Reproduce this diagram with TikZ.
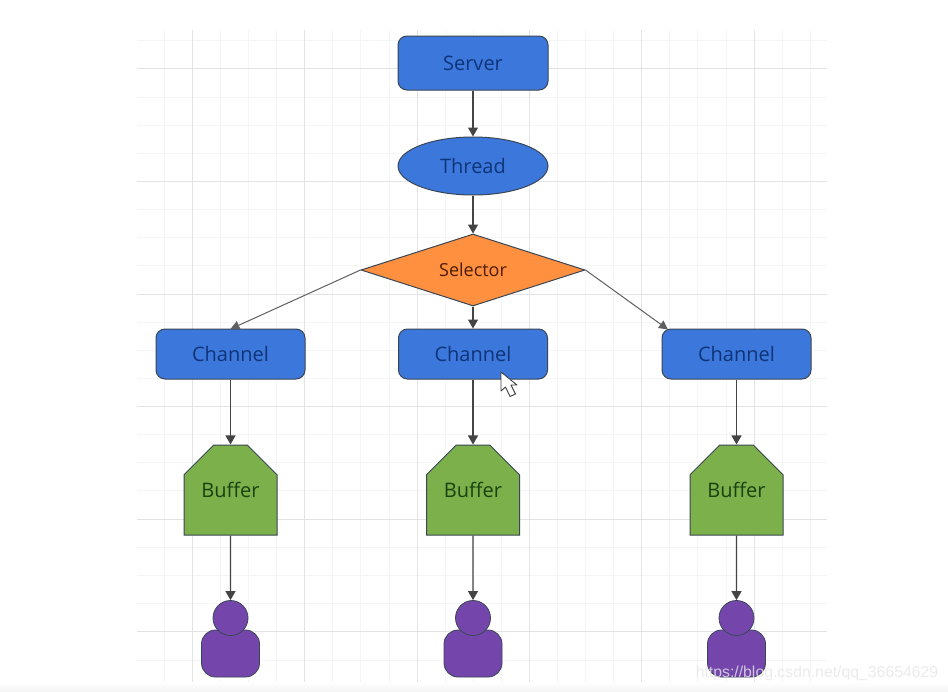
\documentclass[tikz,border=0pt]{standalone}
\usepackage{fontspec}
\setmainfont{Open Sans}
\newfontfamily\wmfont{Liberation Sans}
\usetikzlibrary{shapes.geometric,shapes.misc,arrows.meta}
\definecolor{gmajor}{HTML}{E3E3E5}
\definecolor{gminor}{HTML}{F5F5F6}
\definecolor{wmtext}{HTML}{E6E6E8}
\definecolor{sblue}{HTML}{3C78DC}
\definecolor{tblue}{HTML}{0F3478}
\definecolor{sorange}{HTML}{FF9040}
\definecolor{torange}{HTML}{4E1C00}
\definecolor{sgreen}{HTML}{7CB04A}
\definecolor{tgreen}{HTML}{1A4210}
\definecolor{spurple}{HTML}{7446AC}
\definecolor{edgeln}{HTML}{3A4654}
\definecolor{arrowc}{HTML}{444444}
\tikzset{
  lbl/.style={font=\fontsize{20}{22}\selectfont},
  bluebox/.style={rectangle,rounded corners=9pt,draw=edgeln,line width=1pt,fill=sblue,text=tblue,lbl,inner sep=0pt},
  channelbox/.style={bluebox,minimum width=149pt,minimum height=50pt},
  threadshape/.style={ellipse,draw=edgeln,line width=1pt,fill=sblue,text=tblue,lbl,inner sep=0pt,minimum width=150pt,minimum height=58pt},
  selectorshape/.style={diamond,aspect=3.11,draw=edgeln,line width=1pt,fill=sorange,text=torange,inner sep=0pt,minimum width=224pt,minimum height=72pt,font=\fontsize{18}{20}\selectfont},
  bufferbox/.style={chamfered rectangle,chamfered rectangle corners={north west,north east},chamfered rectangle xsep=23pt,chamfered rectangle ysep=22pt,draw=edgeln,line width=1pt,fill=sgreen,text=tgreen,lbl,inner sep=0pt,minimum width=93pt,minimum height=90pt},
  head/.style={circle,draw=edgeln,line width=.8pt,fill=spurple,inner sep=0pt,minimum size=35pt},
  body/.style={rectangle,rounded corners=14pt,draw=edgeln,line width=.8pt,fill=spurple,inner sep=0pt,minimum width=58pt,minimum height=47pt},
  conn/.style={draw=arrowc,line width=1.1pt,-{Triangle[length=9pt,width=10pt]},shorten >=0pt},
  thinconn/.style={draw=arrowc!85,line width=1pt,-{Triangle[length=9pt,width=9pt]}},
}
\begin{document}
\begin{tikzpicture}[x=1pt,y=-1pt]
\useasboundingbox (0,0) rectangle (948,691);
\fill[white] (0,0) rectangle (948,691);
% grid
\foreach \x in {164,220,248,276,332,360,389,445,473,501,557,585,613,669,697,726,782,810}
  \draw[gminor,line width=1pt] (\x,30) -- (\x,685);
\foreach \y in {40,97,125,153,209,237,265,322,350,378,434,462,490,547,575,603,660}
  \draw[gminor,line width=1pt] (137,\y) -- (827,\y);
\foreach \x in {192,304,417,529,641,754}
  \draw[gmajor,line width=1pt] (\x,30) -- (\x,685);
\foreach \y in {68,181,294,406,519,631}
  \draw[gmajor,line width=1pt] (137,\y) -- (827,\y);
\fill[top color=white,bottom color=gminor] (0,682) rectangle (948,691);
% nodes
\node[bluebox,minimum width=150pt,minimum height=54pt] (server) at (473,63) {Server};
\node[threadshape] (thread) at (473,166) {Thread};
\node[selectorshape] (selector) at (473,270) {Selector};
\node[channelbox] (c1) at (230.5,354) {Channel};
\node[channelbox] (c2) at (473,354) {Channel};
\node[channelbox] (c3) at (736.5,354) {Channel};
\node[bufferbox] (b1) at (230.5,490) {Buffer};
\node[bufferbox] (b2) at (473,490) {Buffer};
\node[bufferbox] (b3) at (736.5,490) {Buffer};
\foreach \n/\x in {1/230.5,2/473,3/736.5}{
  \node[body] (pb\n) at (\x,653.5) {};
  \node[head] (ph\n) at (\x,618) {};
}
\coordinate (c1in) at (230.5,329);
\coordinate (c3in) at (668,329.5);
% connectors
\draw[conn] (server) -- (thread);
\draw[conn] (thread) -- (selector);
\draw[conn] (selector) -- (c2);
\draw[thinconn] (selector.west) -- (c1in);
\draw[thinconn] (selector.east) -- (c3in);
\draw[conn] (c1) -- (b1);
\draw[conn] (c2) -- (b2);
\draw[conn] (c3) -- (b3);
\draw[conn] (b1) -- (ph1);
\draw[conn] (b2) -- (ph2);
\draw[conn] (b3) -- (ph3);
% mouse pointer
\draw[fill=white,draw=black!75,line width=.9pt,line join=round]
  (501,372) -- (501,391) -- (505.5,387) -- (510,396.5) -- (515.5,394) -- (511,385) -- (517,385) -- cycle;
% watermark
\node[font=\wmfont\fontsize{15.8}{18}\selectfont,text=wmtext,text opacity=.8,inner sep=0pt,anchor=center] (wm) at (817,673) {https://blog.csdn.net/qq\_36654629};
\end{tikzpicture}
\end{document}
